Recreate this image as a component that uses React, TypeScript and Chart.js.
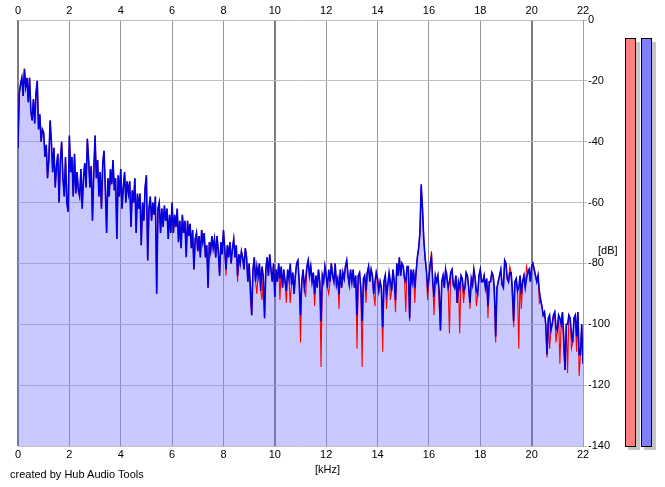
import React, { useEffect, useRef } from "react";
import { Chart, registerables } from "chart.js";

Chart.register(...registerables);

// ---- data ----
const FREQ_STEP_KHZ = 0.05;
const X_MIN_KHZ = 0;
const X_MAX_KHZ = 22;
const X_STEP_KHZ = 2;
const Y_MIN_DB = -140;
const Y_MAX_DB = 0;
const Y_STEP_DB = 20;

// right channel (blue), dB, every 0.05 kHz from 0 to 22 kHz (one row per kHz)
const blueDb = [
  -42, -24, -21, -19, -25, -16, -22, -19, -27, -19, -30, -33, -26, -34, -24, -20, -36, -31, -40, -36,
  -37, -45, -41, -52, -46, -33, -40, -50, -42, -55, -48, -44, -60, -46, -40, -52, -58, -45, -60, -63,
  -38, -50, -45, -58, -44, -57, -50, -56, -58, -49, -62, -52, -47, -55, -39, -46, -55, -48, -66, -50,
  -38, -52, -46, -58, -50, -62, -47, -43, -55, -70, -52, -58, -49, -54, -46, -56, -52, -72, -51, -58,
  -49, -62, -55, -50, -60, -53, -57, -53, -68, -56, -60, -52, -70, -57, -62, -57, -74, -60, -66, -55,
  -51, -79, -62, -58, -66, -60, -64, -58, -90, -62, -60, -70, -62, -68, -61, -66, -62, -72, -64, -70,
  -60, -70, -64, -68, -62, -73, -66, -75, -64, -70, -66, -78, -66, -71, -67, -75, -69, -82, -72, -70,
  -76, -71, -78, -69, -73, -70, -78, -74, -88, -73, -76, -71, -75, -72, -78, -71, -76, -84, -73, -77,
  -69, -75, -82, -74, -78, -73, -80, -75, -72, -78, -74, -84, -77, -80, -76, -78, -82, -75, -78, -86,
  -80, -88, -97, -82, -78, -86, -81, -84, -80, -89, -81, -84, -98, -82, -78, -84, -77, -82, -86, -80,
  -91, -82, -86, -80, -85, -81, -88, -82, -86, -89, -82, -85, -80, -87, -83, -90, -84, -80, -79, -86,
  -97, -86, -82, -88, -85, -81, -79, -84, -81, -86, -83, -90, -84, -88, -82, -86, -99, -84, -86, -81,
  -84, -88, -82, -86, -80, -84, -86, -80, -87, -85, -90, -82, -88, -83, -85, -81, -79, -84, -87, -82,
  -86, -82, -88, -84, -97, -84, -83, -88, -99, -85, -84, -89, -83, -81, -86, -82, -84, -90, -86, -83,
  -85, -89, -86, -88, -101, -86, -84, -90, -87, -83, -86, -89, -82, -86, -92, -80, -84, -78, -84, -80,
  -81, -85, -86, -81, -81, -98, -82, -86, -82, -88, -83, -78, -75, -70, -54, -62, -72, -78, -82, -88,
  -85, -80, -78, -86, -91, -84, -86, -84, -89, -102, -86, -84, -88, -82, -85, -88, -86, -83, -82, -87,
  -88, -84, -93, -86, -88, -84, -85, -89, -88, -83, -84, -88, -93, -85, -87, -82, -85, -89, -90, -84,
  -82, -86, -86, -84, -88, -85, -94, -86, -86, -83, -84, -88, -104, -88, -86, -84, -82, -87, -88, -79,
  -80, -85, -86, -83, -83, -88, -99, -86, -85, -89, -88, -84, -90, -86, -84, -88, -85, -83, -82, -86,
  -81, -80, -82, -84, -86, -84, -89, -92, -94, -97, -96, -100, -110, -98, -97, -102, -100, -97, -96, -101,
  -102, -97, -98, -100, -96, -104, -115, -100, -100, -97, -98, -103, -106, -98, -97, -104, -96, -110, -110, -100, -113,
];

// left channel (red), dB, every 0.05 kHz from 0 to 22 kHz (one row per kHz)
const redDb = [
  -42, -24, -21, -19, -25, -16, -22, -19, -27, -19, -30, -33, -26, -34, -24, -20, -36, -31, -40, -36,
  -37, -45, -41, -52, -46, -33, -40, -50, -42, -55, -48, -44, -60, -46, -40, -52, -58, -45, -60, -63,
  -38, -50, -45, -58, -44, -57, -50, -56, -58, -49, -62, -52, -47, -55, -39, -46, -55, -48, -66, -50,
  -38, -52, -46, -58, -50, -62, -47, -43, -55, -70, -52, -58, -49, -54, -46, -56, -52, -72, -51, -58,
  -49, -62, -55, -50, -60, -53, -57, -53, -68, -56, -60, -52, -70, -57, -62, -57, -74, -60, -66, -55,
  -51, -79, -62, -58, -66, -60, -64, -58, -90, -62, -60, -70, -62, -68, -61, -66, -62, -72, -64, -70,
  -60, -70, -64, -68, -62, -73, -66, -75, -64, -70, -66, -78, -66, -71, -67, -75, -69, -82, -72, -70,
  -76, -71, -78, -69, -73, -70, -78, -74, -88, -73, -76, -71, -75, -72, -78, -71, -76, -84, -73, -77,
  -69, -75, -84, -74, -78, -73, -80, -75, -72, -78, -74, -86, -77, -80, -76, -78, -82, -75, -78, -86,
  -80, -92, -97, -82, -78, -86, -90, -84, -80, -89, -92, -84, -98, -82, -78, -84, -77, -82, -86, -80,
  -91, -82, -86, -80, -92, -81, -88, -82, -86, -93, -82, -85, -93, -87, -83, -90, -84, -80, -79, -86,
  -106, -86, -82, -88, -91, -81, -79, -84, -81, -86, -83, -94, -84, -88, -82, -86, -114, -84, -86, -81,
  -84, -88, -90, -86, -80, -84, -86, -80, -87, -85, -95, -82, -88, -83, -85, -81, -79, -84, -87, -82,
  -86, -82, -88, -84, -108, -84, -83, -88, -114, -85, -84, -93, -83, -81, -86, -82, -84, -90, -94, -83,
  -85, -89, -86, -88, -109, -86, -84, -95, -87, -83, -92, -89, -82, -86, -96, -80, -84, -78, -84, -80,
  -81, -85, -96, -81, -81, -99, -82, -86, -82, -93, -83, -78, -75, -70, -55, -62, -72, -78, -82, -92,
  -85, -80, -76, -86, -97, -84, -86, -84, -94, -102, -86, -84, -88, -82, -83, -88, -103, -83, -82, -87,
  -88, -84, -93, -86, -103, -84, -85, -93, -88, -83, -84, -88, -95, -85, -87, -82, -85, -94, -90, -84,
  -82, -86, -86, -84, -88, -85, -98, -86, -86, -83, -84, -92, -106, -88, -86, -84, -82, -87, -88, -79,
  -80, -85, -86, -81, -83, -92, -101, -86, -85, -89, -108, -84, -95, -86, -84, -88, -81, -83, -82, -86,
  -81, -80, -82, -84, -86, -84, -93, -92, -94, -97, -96, -100, -111, -98, -108, -102, -100, -97, -96, -106,
  -102, -97, -113, -100, -96, -109, -115, -100, -116, -97, -98, -108, -106, -98, -97, -109, -96, -117, -110, -100, -113,
];

// level meters (left red, right blue), dB
const meterLabels = ["L", "R"];
const meterLevelsDb = [-6, -6];

const FONT = "'Liberation Sans', Arial, sans-serif";

const toPoints = (vals: number[]) =>
  vals.map((v, i) => ({ x: Math.round(i * FREQ_STEP_KHZ * 100) / 100, y: v }));

const meterPlugin = {
  id: "levelMeters",
  afterDraw(chart: any) {
    const y = chart.scales.y;
    const ctx = chart.ctx;
    const bottom = Math.round(y.getPixelForValue(Y_MIN_DB));
    const lefts = [625, 641];
    const fills = ["#ff8080", "#8080ff"];
    ctx.save();
    meterLevelsDb.forEach((lvl, i) => {
      const top = Math.round(y.getPixelForValue(lvl));
      const left = lefts[i];
      const h = bottom - top;
      // shadow
      ctx.fillStyle = "#c4c4c4";
      ctx.fillRect(left + 11, top + 4, 4, h);
      ctx.fillRect(left + 3, bottom + 1, 12, 3);
      // bar
      ctx.fillStyle = fills[i];
      ctx.fillRect(left, top, 11, h + 1);
      ctx.strokeStyle = "#000000";
      ctx.lineWidth = 1;
      ctx.strokeRect(left + 0.5, top + 0.5, 10, h);
    });
    ctx.restore();
  },
};

export default function App() {
  const ref = useRef<HTMLCanvasElement | null>(null);

  useEffect(() => {
    if (!ref.current) return;
    Chart.defaults.font.family = FONT;
    Chart.defaults.font.size = 11;
    Chart.defaults.color = "#000000";

    const chart = new Chart(ref.current, {
      type: "line",
      data: {
        datasets: [
          {
            label: meterLabels[1],
            data: toPoints(blueDb),
            borderColor: "#0000e0",
            borderWidth: 1.6,
            pointRadius: 0,
            tension: 0,
            fill: "start",
            backgroundColor: "rgba(120,120,255,0.4)",
          },
          {
            label: meterLabels[0],
            data: toPoints(redDb),
            borderColor: "#ff0000",
            borderWidth: 1.1,
            pointRadius: 0,
            tension: 0,
            fill: false,
          },
        ],
      },
      options: {
        animation: false,
        responsive: false,
        devicePixelRatio: 1,
        layout: { padding: { left: 18, right: 0, top: 0, bottom: 0 } },
        plugins: {
          legend: { display: false },
          tooltip: { enabled: false },
          filler: { drawTime: "beforeDatasetsDraw" },
        } as any,
        scales: {
          x: {
            type: "linear",
            position: "bottom",
            min: X_MIN_KHZ,
            max: X_MAX_KHZ,
            ticks: { stepSize: X_STEP_KHZ, padding: 2, maxRotation: 0, font: { size: 11, family: FONT } },
            grid: {
              drawTicks: false,
              color: (c: any) => (c.tick && c.tick.value % 10 === 0 ? "#7c7c7c" : "#959595"),
              lineWidth: (c: any) => (c.tick && c.tick.value % 10 === 0 ? 2 : 1),
            },
            border: { display: false },
            afterFit: (s: any) => {
              s.height = 41;
            },
          },
          x2: {
            type: "linear",
            position: "top",
            min: X_MIN_KHZ,
            max: X_MAX_KHZ,
            ticks: { stepSize: X_STEP_KHZ, padding: 2, maxRotation: 0, font: { size: 11, family: FONT } },
            grid: { display: false, drawTicks: false },
            border: { display: false },
            afterFit: (s: any) => {
              s.height = 20;
            },
          },
          y: {
            type: "linear",
            position: "right",
            min: Y_MIN_DB,
            max: Y_MAX_DB,
            ticks: { stepSize: Y_STEP_DB, padding: 1, font: { size: 11, family: FONT } },
            grid: { color: "#c0c0c0", lineWidth: 1, drawTicks: true, tickLength: 4 },
            border: { display: true, color: "#a0a0a0", width: 1 },
            afterFit: (s: any) => {
              s.width = 82;
            },
          },
        },
      } as any,
      plugins: [meterPlugin],
    });
    return () => chart.destroy();
  }, []);

  const txt: React.CSSProperties = {
    position: "absolute",
    fontFamily: FONT,
    fontSize: 11,
    lineHeight: "13px",
    color: "#000",
    whiteSpace: "nowrap",
  };

  return (
    <div style={{ position: "absolute", left: 0, top: 0, width: 665, height: 487, background: "#fff", overflow: "hidden" }}>
      <canvas ref={ref} width={665} height={487} style={{ position: "absolute", left: 0, top: 0 }} />
      <span style={{ ...txt, left: 315, top: 463 }}>[kHz]</span>
      <span style={{ ...txt, left: 598, top: 244 }}>[dB]</span>
      <span style={{ ...txt, left: 10, top: 468 }}>created by Hub Audio Tools</span>
    </div>
  );
}
